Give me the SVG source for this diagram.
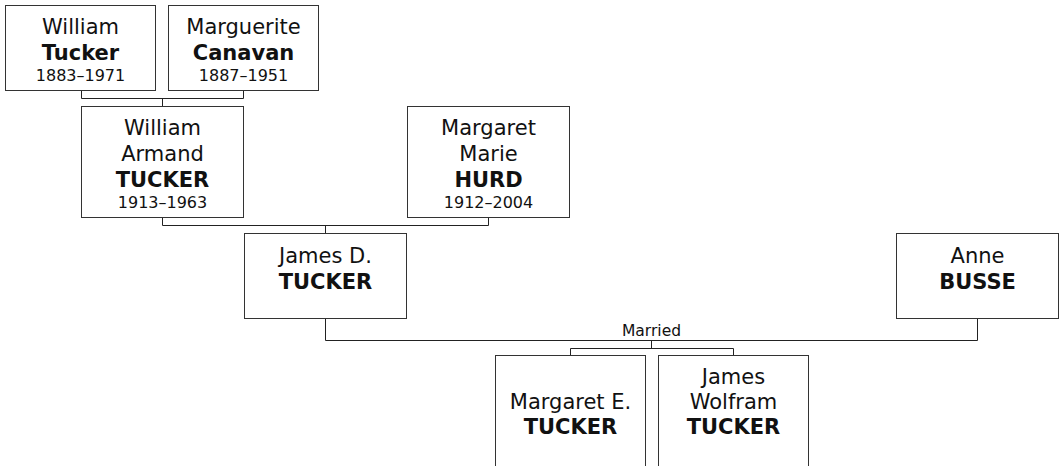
<svg xmlns="http://www.w3.org/2000/svg" width="1062" height="466" viewBox="0 0 1062 466">
<style>
.box{fill:#fff;stroke:#333;stroke-width:1}
.t{font-family:"DejaVu Sans",Verdana,sans-serif;font-size:21px;fill:#111;text-anchor:middle}
.b{font-weight:bold}
.d{font-size:16px}
.lbl{font-family:"DejaVu Sans",Verdana,sans-serif;font-size:15.5px;fill:#111;text-anchor:middle}
.c{fill:none;stroke:#222;stroke-width:1}
</style>
<rect width="1062" height="466" fill="#fff"/>
<g id="connectors">
<path class="c" d="M81.5 90.5V98.5H243.5V90.5M162.5 98.5V106.5"/>
<path class="c" d="M162.5 217.5V225.5H488.5V217.5M325.5 225.5V233.5"/>
<path class="c" d="M325.5 318.5V340.5H977.5V318.5M651.5 340.5V348.5M570.5 355.5V348.5H733.5V355.5"/>
<text class="lbl" x="651.5" y="336">Married</text>
</g>
<g id="william-tucker">
<rect class="box" x="5.5" y="5.5" width="150" height="85"/>
<text class="t" x="80.5" y="34">William</text>
<text class="t b" x="80.5" y="60">Tucker</text>
<text class="t d" x="80.5" y="81">1883–1971</text>
</g>
<g id="marguerite-canavan">
<rect class="box" x="168.5" y="5.5" width="150" height="85"/>
<text class="t" x="243.5" y="34">Marguerite</text>
<text class="t b" x="243.5" y="60">Canavan</text>
<text class="t d" x="243.5" y="81">1887–1951</text>
</g>
<g id="william-armand-tucker">
<rect class="box" x="81.5" y="106.5" width="162" height="111"/>
<text class="t" x="162.5" y="135">William</text>
<text class="t" x="162.5" y="161">Armand</text>
<text class="t b" x="162.5" y="187">TUCKER</text>
<text class="t d" x="162.5" y="208">1913–1963</text>
</g>
<g id="margaret-marie-hurd">
<rect class="box" x="407.5" y="106.5" width="162" height="111"/>
<text class="t" x="488.5" y="135">Margaret</text>
<text class="t" x="488.5" y="161">Marie</text>
<text class="t b" x="488.5" y="187">HURD</text>
<text class="t d" x="488.5" y="208">1912–2004</text>
</g>
<g id="james-d-tucker">
<rect class="box" x="244.5" y="233.5" width="162" height="85"/>
<text class="t" x="325.5" y="263">James D.</text>
<text class="t b" x="325.5" y="289">TUCKER</text>
</g>
<g id="anne-busse">
<rect class="box" x="896.5" y="233.5" width="162" height="85"/>
<text class="t" x="977.5" y="263">Anne</text>
<text class="t b" x="977.5" y="289">BUSSE</text>
</g>
<g id="margaret-e-tucker">
<rect class="box" x="495.5" y="355.5" width="150" height="130"/>
<text class="t" x="570.5" y="409">Margaret E.</text>
<text class="t b" x="570.5" y="434">TUCKER</text>
</g>
<g id="james-wolfram-tucker">
<rect class="box" x="658.5" y="355.5" width="150" height="130"/>
<text class="t" x="733.5" y="384">James</text>
<text class="t" x="733.5" y="409">Wolfram</text>
<text class="t b" x="733.5" y="434">TUCKER</text>
</g>
</svg>
